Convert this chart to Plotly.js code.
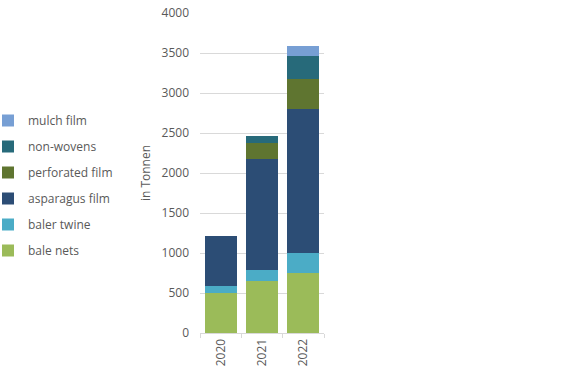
<!DOCTYPE html>
<html>
<head>
<meta charset="utf-8">
<script src="https://cdn.plot.ly/plotly-3.0.1.min.js"></script>
<style>html,body{margin:0;padding:0;background:#fff;}#chart{width:580px;height:375px;}</style>
</head>
<body>
<div id="chart"></div>
<script>
const years = ["2020", "2021", "2022"];
const seriesNames = ["bale nets", "baler twine", "asparagus film", "perforated film", "non-wovens", "mulch film"];
const baleNets = [495, 650, 755];
const balerTwine = [95, 137, 245];
const asparagusFilm = [625, 1388, 1804];
const perforatedFilm = [0, 200, 367];
const nonWovens = [0, 84, 295];
const mulchFilm = [0, 0, 118];
const yTickValues = [0, 500, 1000, 1500, 2000, 2500, 3000, 3500, 4000];
const colors = ["#9BBB59", "#4BACC6", "#2C4D75", "#5F7530", "#276A7A", "#779FD4"];

const values = [baleNets, balerTwine, asparagusFilm, perforatedFilm, nonWovens, mulchFilm];
const traces = values.map((v, i) => ({
  type: "bar",
  x: years,
  y: v,
  name: seriesNames[i],
  legendgroup: "g" + i,
  legendrank: 1000 - i,
  marker: {color: colors[i], line: {width: 0}},
  hoverinfo: "x+y+name"
}));

const font = {family: "Open Sans, Liberation Sans, sans-serif", size: 12, color: "#595959"};
const plotLeft = 200, plotWidth = 124;

const layout = {
  width: 580, height: 375,
  margin: {l: plotLeft, r: 580 - plotLeft - plotWidth, t: 13, b: 42, pad: 0, autoexpand: false},
  paper_bgcolor: "#fff", plot_bgcolor: "#fff",
  barmode: "stack",
  bargap: 0.23,
  font: font,
  showlegend: true,
  legend: {
    xref: "paper", yref: "paper",
    x: (-12 - plotLeft) / plotWidth, y: 1 - (106 - 13) / 320, xanchor: "left", yanchor: "top",
    traceorder: "grouped",
    tracegroupgap: 7,
    itemwidth: 30,
    font: font,
    bgcolor: "rgba(0,0,0,0)"
  },
  xaxis: {
    type: "category",
    tickangle: -90,
    ticks: "outside", tickson: "boundaries", ticklen: 4, tickcolor: "#D9D9D9",
    showline: true, linecolor: "#D9D9D9", linewidth: 1,
    showgrid: false, zeroline: false,
    tickfont: font
  },
  yaxis: {
    range: [0, 4000],
    tickvals: yTickValues,
    ticktext: yTickValues.map(String),
    showgrid: true, gridcolor: "#D9D9D9", gridwidth: 1,
    zeroline: false, showline: false,
    ticks: "", ticklabelstandoff: 10,
    tickfont: font,
    title: {text: "in Tonnen", font: font, standoff: 8}
  }
};

Plotly.newPlot("chart", traces, layout, {displayModeBar: false, staticPlot: true});
</script>
</body>
</html>
